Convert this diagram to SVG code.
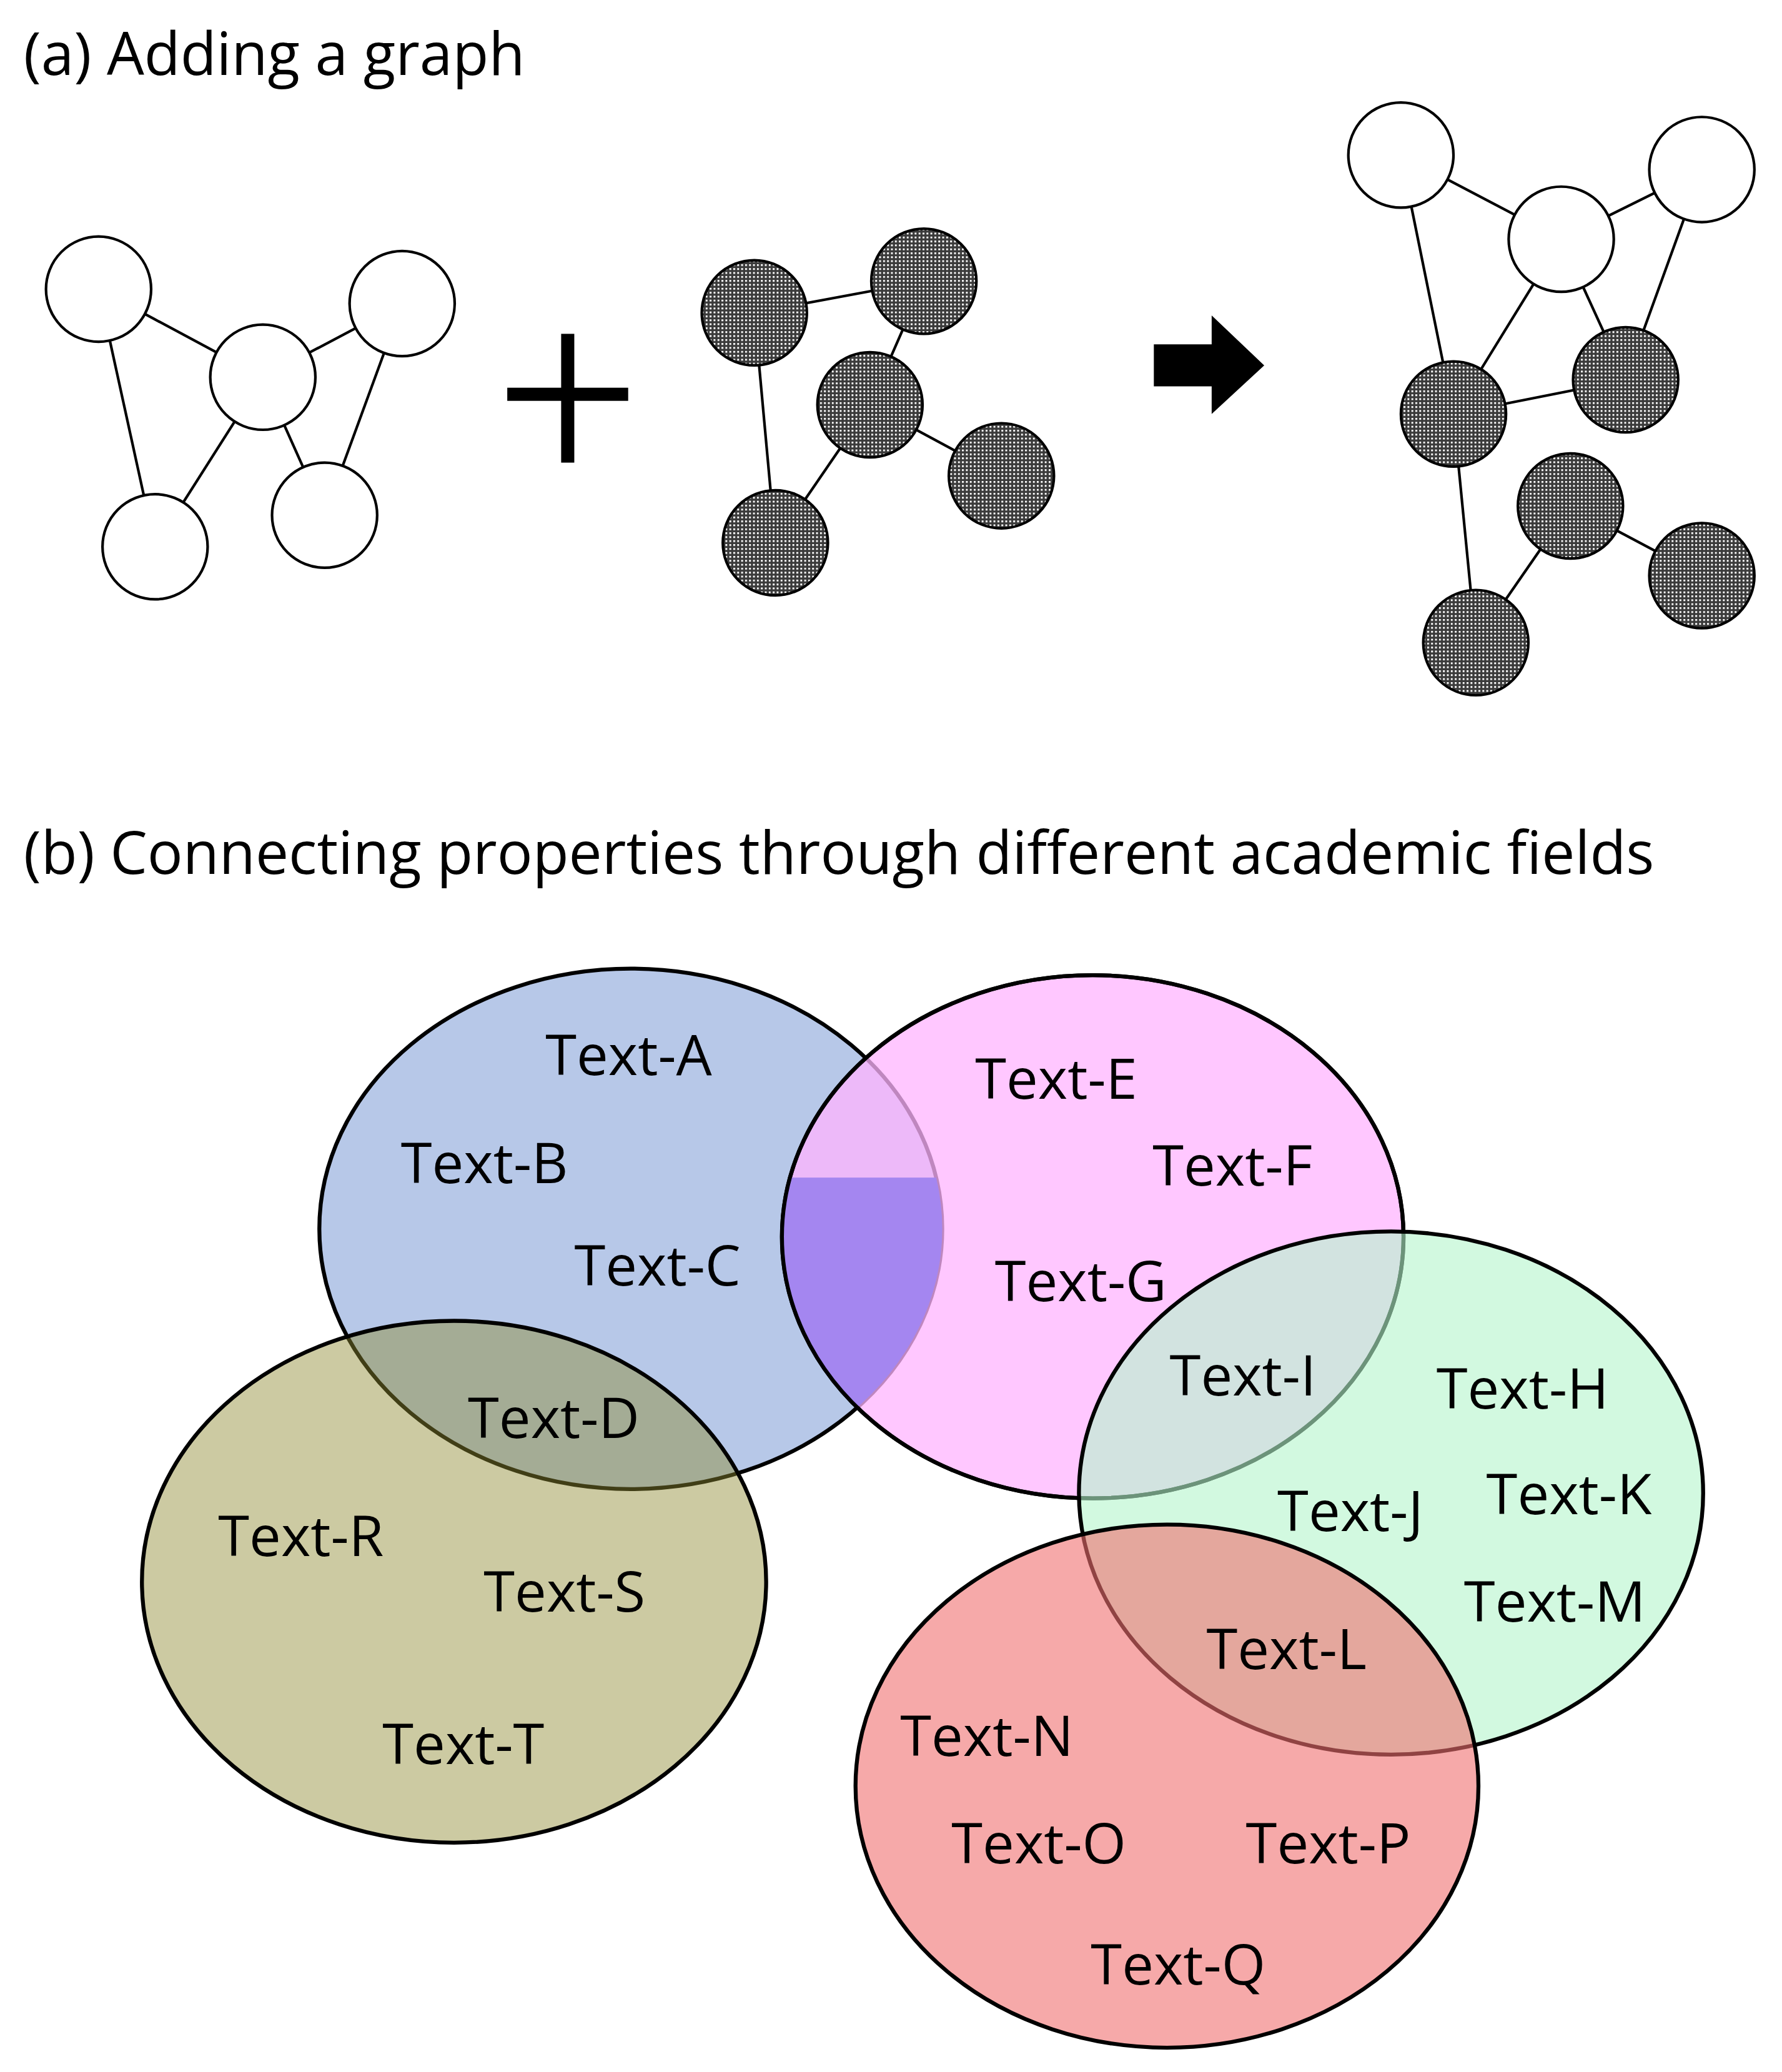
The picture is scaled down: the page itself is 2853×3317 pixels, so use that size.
<svg xmlns="http://www.w3.org/2000/svg" width="2853" height="3317" viewBox="0 0 2853 3317">
<style>
.t{font-family:"Open Sans","Liberation Sans",sans-serif;fill:#000}
.lab{font-size:43px}
.ttl{font-size:45px}
.e{stroke:#000;stroke-width:2}
.w{fill:#fff;stroke:#000;stroke-width:2}
.d{fill:url(#dots);stroke:#000;stroke-width:2}
.v{stroke:#000;stroke-width:3}
</style>
<defs>
<pattern id="dots" width="3" height="3" patternUnits="userSpaceOnUse">
<rect width="3" height="3" fill="#3a3a3a"/><rect x="0" y="0" width="1.4" height="1.4" fill="#fff"/>
</pattern>
<clipPath id="blueC"><ellipse cx="480" cy="935" rx="237" ry="198"/></clipPath>
<clipPath id="pinkC"><ellipse cx="831.5" cy="941" rx="236.5" ry="199"/></clipPath>
</defs>
<rect width="2853" height="3317" fill="#fff"/>
<g transform="scale(2.104)">
<text class="t ttl" x="18" y="57">(a) Adding a graph</text>
<text class="t ttl" x="18" y="665">(b) Connecting properties through different academic fields</text>

<g id="connectors">
<line class="e" x1="75" y1="220" x2="200" y2="287"/>
<line class="e" x1="75" y1="220" x2="118" y2="416"/>
<line class="e" x1="200" y1="287" x2="306" y2="231"/>
<line class="e" x1="200" y1="287" x2="118" y2="416"/>
<line class="e" x1="200" y1="287" x2="247" y2="392"/>
<line class="e" x1="306" y1="231" x2="247" y2="392"/>
<line class="e" x1="574" y1="238" x2="703" y2="214"/>
<line class="e" x1="574" y1="238" x2="590" y2="413"/>
<line class="e" x1="703" y1="214" x2="662" y2="308"/>
<line class="e" x1="662" y1="308" x2="762" y2="362"/>
<line class="e" x1="662" y1="308" x2="590" y2="413"/>
<line class="e" x1="1066" y1="118" x2="1188" y2="182"/>
<line class="e" x1="1188" y1="182" x2="1295" y2="129"/>
<line class="e" x1="1066" y1="118" x2="1106" y2="315"/>
<line class="e" x1="1188" y1="182" x2="1106" y2="315"/>
<line class="e" x1="1188" y1="182" x2="1237" y2="289"/>
<line class="e" x1="1295" y1="129" x2="1237" y2="289"/>
<line class="e" x1="1106" y1="315" x2="1237" y2="289"/>
<line class="e" x1="1106" y1="315" x2="1123" y2="489"/>
<line class="e" x1="1195" y1="385" x2="1295" y2="438"/>
<line class="e" x1="1195" y1="385" x2="1123" y2="489"/>
</g>
<g id="n1"><circle class="w" cx="75" cy="220" r="40"/></g>
<g id="n2"><circle class="w" cx="200" cy="287" r="40"/></g>
<g id="n3"><circle class="w" cx="306" cy="231" r="40"/></g>
<g id="n4"><circle class="w" cx="118" cy="416" r="40"/></g>
<g id="n5"><circle class="w" cx="247" cy="392" r="40"/></g>
<g id="plus"><rect x="386" y="295" width="92" height="10"/><rect x="427" y="254" width="10" height="98"/></g>
<g id="d1"><circle class="d" cx="574" cy="238" r="40"/></g>
<g id="d2"><circle class="d" cx="703" cy="214" r="40"/></g>
<g id="d3"><circle class="d" cx="662" cy="308" r="40"/></g>
<g id="d4"><circle class="d" cx="762" cy="362" r="40"/></g>
<g id="d5"><circle class="d" cx="590" cy="413" r="40"/></g>
<g id="arrow"><polygon points="878,262 922,262 922,240 962,278 922,315 922,294 878,294"/></g>
<g id="w1"><circle class="w" cx="1066" cy="118" r="40"/></g>
<g id="w2"><circle class="w" cx="1188" cy="182" r="40"/></g>
<g id="w3"><circle class="w" cx="1295" cy="129" r="40"/></g>
<g id="k1"><circle class="d" cx="1106" cy="315" r="40"/></g>
<g id="k2"><circle class="d" cx="1237" cy="289" r="40"/></g>
<g id="k3"><circle class="d" cx="1195" cy="385" r="40"/></g>
<g id="k4"><circle class="d" cx="1295" cy="438" r="40"/></g>
<g id="k5"><circle class="d" cx="1123" cy="489" r="40"/></g>

<g id="venn">
<ellipse cx="480" cy="935" rx="237" ry="198" fill="#b7c8e8" class="v"/>
<ellipse cx="345.5" cy="1203.5" rx="237.5" ry="198.5" fill="#8f8a30" fill-opacity="0.45" class="v"/>
<ellipse cx="831.5" cy="941" rx="236.5" ry="199" fill="#ffb4ff" fill-opacity="0.75" class="v"/>
<g clip-path="url(#blueC)"><rect x="590" y="896" width="140" height="250" fill="#a486f0" clip-path="url(#pinkC)"/></g>
<ellipse cx="831.5" cy="941" rx="236.5" ry="199" fill="none" class="v"/>
<ellipse cx="1058.5" cy="1136" rx="237.5" ry="199" fill="#b4f5cc" fill-opacity="0.6" class="v"/>
<ellipse cx="888" cy="1359" rx="237" ry="199" fill="#f07070" fill-opacity="0.6" class="v"/>
</g>
<g class="t lab">
<text x="415" y="818">Text-A</text>
<text x="305" y="900">Text-B</text>
<text x="437" y="978">Text-C</text>
<text x="356" y="1094">Text-D</text>
<text x="742" y="836">Text-E</text>
<text x="877" y="902">Text-F</text>
<text x="757" y="990">Text-G</text>
<text x="890" y="1062">Text-I</text>
<text x="1093" y="1072">Text-H</text>
<text x="972" y="1165">Text-J</text>
<text x="1131" y="1152">Text-K</text>
<text x="1114" y="1234">Text-M</text>
<text x="918" y="1270">Text-L</text>
<text x="685" y="1336">Text-N</text>
<text x="724" y="1418">Text-O</text>
<text x="948" y="1418">Text-P</text>
<text x="830" y="1510">Text-Q</text>
<text x="166" y="1184">Text-R</text>
<text x="368" y="1226">Text-S</text>
<text x="291" y="1342">Text-T</text>
</g>
</g>
</svg>
